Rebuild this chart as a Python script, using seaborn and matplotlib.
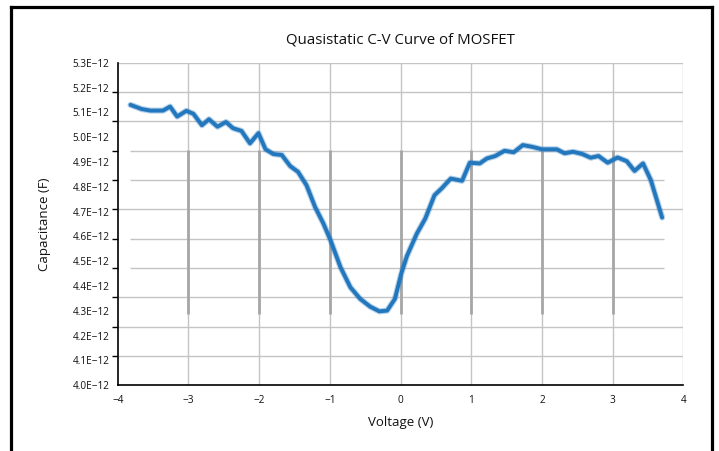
import matplotlib
matplotlib.use("Agg")
import matplotlib.pyplot as plt
from matplotlib.lines import Line2D
import pandas as pd
import seaborn as sns

# %% data (capacitance in units of 1E-12 F)
voltage = [-3.82, -3.66, -3.54, -3.36, -3.26, -3.16, -3.03, -2.93, -2.81, -2.71,
           -2.59, -2.47, -2.37, -2.25, -2.13, -2.01, -1.91, -1.80, -1.68, -1.56,
           -1.45, -1.33, -1.21, -1.09, -0.99, -0.85, -0.71, -0.57, -0.43, -0.30,
           -0.19, -0.08, 0.01, 0.09, 0.23, 0.35, 0.48, 0.58, 0.71, 0.87,
           0.98, 1.12, 1.22, 1.34, 1.47, 1.60, 1.73, 1.86, 2.00, 2.21,
           2.32, 2.44, 2.57, 2.69, 2.80, 2.93, 3.07, 3.20, 3.31, 3.43,
           3.54, 3.70]
capacitance = [5.130, 5.113, 5.107, 5.107, 5.123, 5.083, 5.106, 5.094, 5.048, 5.072,
               5.042, 5.061, 5.036, 5.025, 4.975, 5.016, 4.951, 4.932, 4.928, 4.883,
               4.860, 4.806, 4.719, 4.651, 4.584, 4.476, 4.395, 4.348, 4.317, 4.298,
               4.301, 4.348, 4.450, 4.521, 4.611, 4.672, 4.766, 4.793, 4.833, 4.824,
               4.897, 4.894, 4.914, 4.924, 4.945, 4.939, 4.968, 4.961, 4.951, 4.951,
               4.935, 4.941, 4.932, 4.917, 4.924, 4.897, 4.918, 4.903, 4.864, 4.894,
               4.827, 4.676]

x_ticks = [-4, -3, -2, -1, 0, 1, 2, 3, 4]
y_label_values = [4.0, 4.1, 4.2, 4.3, 4.4, 4.5, 4.6, 4.7, 4.8, 4.9, 5.0, 5.1, 5.2, 5.3]

df = pd.DataFrame({"Voltage (V)": voltage, "Capacitance (F)": capacitance})

# %% style
sns.set_style("white")
plt.rcParams['font.family'] = ['Open Sans', 'DejaVu Sans']
text_col = "#111111"
grid_col = "#c4c4c4"

fig = plt.figure(figsize=(7.19, 4.51), dpi=100)
ax = fig.add_axes([0.1638, 0.1457, 0.7866, 0.7153])

# grid: 12 evenly spaced lines (they don't line up with the 14 labels in the original)
n_grid = 12
y_grid = [4.0 + k * 1.3 / (n_grid - 1) for k in range(n_grid)]
short_rows = {4: (-3.82, 3.72), 5: (-3.82, 3.72), 7: (-3.82, 3.72), 8: (-3.82, 4.0)}
for k, yg in enumerate(y_grid[1:], start=1):
    x0, x1 = short_rows.get(k, (-4.0, 4.0))
    ax.hlines(yg, x0, x1, color=grid_col, lw=1.0, zorder=1)
for xv in x_ticks[1:]:
    ax.vlines(xv, 4.0, 5.3, color=grid_col, lw=1.0, zorder=1)
# darker vertical bars
ax.vlines(x_ticks[1:-1], 4.287, 4.948, color="#a6a6a6", lw=2.0, zorder=1.5)

# curve, with a soft halo to mimic the blurry line
ax.plot(voltage, capacitance, color="#2a7bc2", lw=4.4, alpha=0.35,
        solid_capstyle="round", solid_joinstyle="round", zorder=2)
sns.lineplot(data=df, x="Voltage (V)", y="Capacitance (F)", ax=ax, color="#2277bd",
             lw=2.8, zorder=3, sort=False)

ax.set_xlim(-4, 4)
ax.set_ylim(4.0, 5.3)
ax.set_xticks(x_ticks)
ax.set_xticklabels([str(v).replace("-", "\u2212") for v in x_ticks])
ax.set_yticks(y_label_values)
ax.set_yticklabels([f"{v:.1f}E\u221212" for v in y_label_values])
ax.set_yticks(y_grid, minor=True)
ax.tick_params(axis="y", which="major", length=0, pad=6, labelsize=7.2, colors=text_col)
ax.tick_params(axis="y", which="minor", length=4, width=1, color="black", left=True)
ax.tick_params(axis="x", which="major", length=0, pad=7, labelsize=7.2, colors=text_col)

for s in ["top", "right"]:
    ax.spines[s].set_visible(False)
for s in ["left", "bottom"]:
    ax.spines[s].set_color("black")
    ax.spines[s].set_linewidth(1.2)

ax.set_xlabel("Voltage (V)", fontsize=9.5, color=text_col)
ax.xaxis.label.set_va("center")
ax.xaxis.set_label_coords(0.5, -0.114)
ax.set_ylabel("Capacitance (F)", fontsize=9.5, color=text_col)
ax.yaxis.label.set_va("center")
ax.yaxis.set_label_coords(-0.1287, 0.5)
ax.set_title("Quasistatic C-V Curve of MOSFET", fontsize=10.8, color=text_col,
             y=1.0704, va="center", pad=0)

# black frame around the chart (open at the bottom)
frame = dict(color="black", lw=2.3, transform=fig.transFigure, solid_capstyle="projecting")
fig.add_artist(Line2D([0.0157, 0.0157], [0.0, 0.9845], **frame))
fig.add_artist(Line2D([0.0157, 0.9903], [0.9845, 0.9845], **frame))
fig.add_artist(Line2D([0.9903, 0.9903], [0.0, 0.9845], **frame))

fig.savefig("out.png", dpi=100)
